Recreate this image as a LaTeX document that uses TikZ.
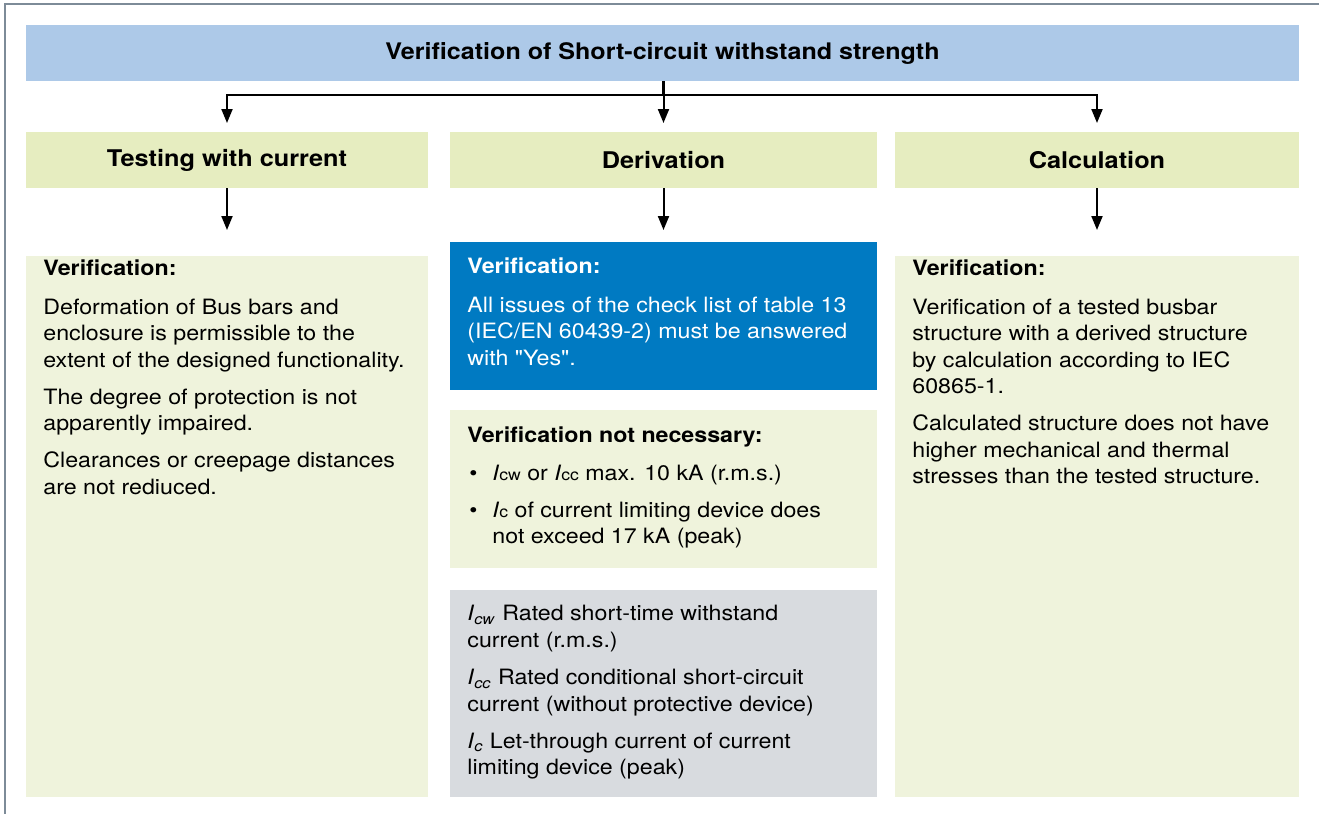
\documentclass[tikz,border=0pt]{standalone}
\usepackage{fontspec}
\setmainfont{TeX Gyre Heros}[FakeStretch=1.1]
\newfontfamily\rawquote{TeX Gyre Heros}[FakeStretch=1.1]
\usepackage{xcolor}
\usetikzlibrary{positioning, arrows.meta}
\definecolor{bannerblue}{HTML}{ADC9E8}
\definecolor{headgreen}{HTML}{E6EDC0}
\definecolor{palegreen}{HTML}{EFF3DC}
\definecolor{abbblue}{HTML}{007AC2}
\definecolor{legendgray}{HTML}{D8DBDF}
\definecolor{framegray}{HTML}{7D8B98}
\newcommand{\bodyfont}{\fontsize{10.55}{13.25}\selectfont}
\newcommand{\smallsub}[1]{{\fontsize{8}{8}\selectfont #1}}

\begin{document}
\begin{tikzpicture}[x=0.5pt, y=-0.5pt,
  box/.style={inner sep=0pt, outer sep=0pt},
  head/.style={box, fill=headgreen, minimum height=28pt,
               font=\bfseries\fontsize{11.5}{14}\selectfont},
  txt/.style={anchor=north west, inner sep=0pt, align=left, font=\bodyfont},
  link/.style={-{Triangle[length=7pt, width=5.5pt]}, line width=1pt}]
  \useasboundingbox (0,0) rectangle (1319,814);
  \draw[framegray, line width=0.8pt] (5,814) -- (5,4) -- (1319,4);

  % banner and the three ways
  \node[box, fill=bannerblue, minimum width=636.5pt, minimum height=28pt,
        font=\bfseries\fontsize{11.4}{13}\selectfont] (title) at (662.5,53)
    {Verification of Short-circuit withstand strength};
  \node[head, minimum width=201pt] (testing) at (227,160) {Testing with current};
  \node[head, minimum width=213.5pt] (derivation) at (663.5,160) {Derivation};
  \node[head, minimum width=202pt] (calculation) at (1097,160) {Calculation};

  % boxes
  \node[box, fill=palegreen, minimum width=201pt, minimum height=270.5pt] (testbox) at (227,526.5) {};
  \node[box, fill=abbblue, minimum width=213.5pt, minimum height=74pt] (derivbox) at (663.5,316) {};
  \node[box, fill=palegreen, minimum width=213.5pt, minimum height=79pt] (exemptbox) at (663.5,489) {};
  \node[box, fill=legendgray, minimum width=213.5pt, minimum height=103.5pt] (legendbox) at (663.5,693.5) {};
  \node[box, fill=palegreen, minimum width=202pt, minimum height=270.5pt] (calcbox) at (1097,526.5) {};

  \node[txt] (testtext) at ([shift={(8.5pt,-1.5pt)}]testbox.north west)
    {\textbf{Verification:}\\[6.25pt]
     Deformation of Bus bars and\\
     enclosure is permissible to the\\
     extent of the designed functionality.\\[5.25pt]
     The degree of protection is not\\
     apparently impaired.\\[5.25pt]
     Clearances or creepage distances\\
     are not rediuced.};
  \node[txt, text=white] (derivtext) at ([shift={(8.5pt,-7.5pt)}]derivbox.north west)
    {\textbf{Verification:}\\[6.25pt]
     All issues of the check list of table 13\\
     (IEC/EN 60439-2) must be answered\\
     with {\rawquote"}Yes{\rawquote"}.};
  \node[txt] (exempttext) at ([shift={(8.5pt,-8pt)}]exemptbox.north west)
    {\textbf{Verification not necessary:}\\[5.75pt]
     \hspace*{1pt}\makebox[11.5pt][l]{\textbullet}\textit{I}\smallsub{cw} or \textit{I}\smallsub{cc} max. 10 kA (r.m.s.)\\[5.25pt]
     \hspace*{1pt}\makebox[11.5pt][l]{\textbullet}\textit{I}\smallsub{c} of current limiting device does\\
     \hspace*{12.5pt}not exceed 17 kA (peak)};
  \node[txt] (legendtext) at ([shift={(8.5pt,-7.5pt)}]legendbox.north west)
    {\textit{I}\textsubscript{\textit{cw}} Rated short-time withstand\\
     current (r.m.s.)\\[5.5pt]
     \textit{I}\textsubscript{\textit{cc}} Rated conditional short-circuit\\
     current (without protective device)\\[5.25pt]
     \textit{I}\textsubscript{\textit{c}} Let-through current of current\\
     limiting device (peak)};
  \node[txt] (calctext) at ([shift={(8.5pt,-1.5pt)}]calcbox.north west)
    {\textbf{Verification:}\\[6.25pt]
     Verification of a tested busbar\\
     structure with a derived structure\\
     by calculation according to IEC\\
     60865-1.\\[5.25pt]
     Calculated structure does not have\\
     higher mechanical and thermal\\
     stresses than the tested structure.};

  % connectors
  \draw[line width=1pt] (title.south) -- ++(0,14) coordinate (split);
  \draw[link, shorten >=4.5pt] (split) -| (testing.north);
  \draw[link, shorten >=4.5pt] (derivation.north |- title.south) -- (derivation.north);
  \draw[link, shorten >=4.5pt] (split) -| (calculation.north);
  \draw[link, shorten >=13pt] (testing) -- (testbox);
  \draw[link, shorten >=6pt] (derivation) -- (derivbox);
  \draw[link, shorten >=13pt] (calculation) -- (calcbox);
\end{tikzpicture}
\end{document}
